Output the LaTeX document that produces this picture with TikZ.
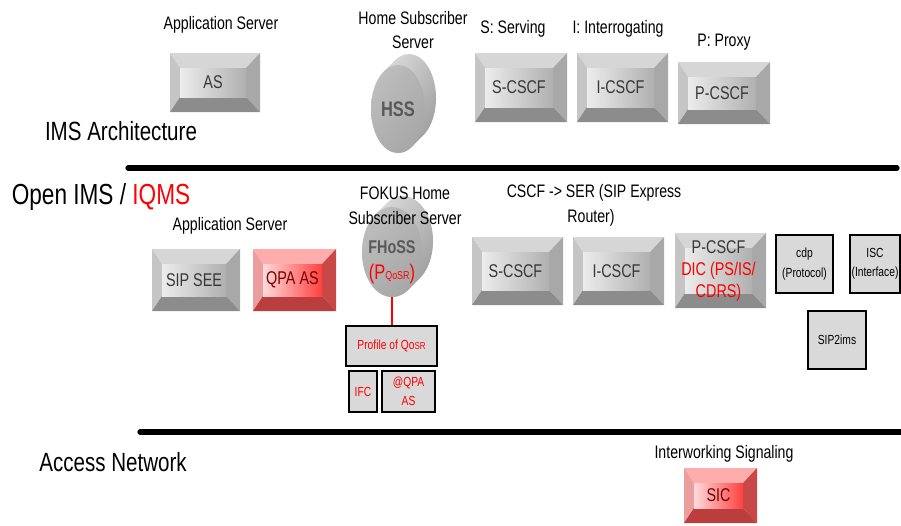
\documentclass[tikz,border=0pt]{standalone}
\usepackage{fontspec}
\setmainfont[FakeStretch=0.78]{Liberation Sans}
\usepackage{tikz}
\usetikzlibrary{shapes.geometric, shadings, positioning}

\definecolor{QRed}{RGB}{255, 0, 0}
\definecolor{BoxGray}{RGB}{217, 217, 217}
\definecolor{GrayTop}{RGB}{214, 214, 214}
\definecolor{GraySide}{RGB}{168, 168, 168}
\definecolor{GrayBase}{RGB}{140, 140, 140}
\definecolor{GrayFaceL}{RGB}{236, 236, 236}
\definecolor{GrayFaceR}{RGB}{176, 176, 176}
\definecolor{GrayText}{RGB}{55, 55, 55}
\definecolor{PinkTop}{RGB}{255, 172, 172}
\definecolor{PinkSide}{RGB}{200, 72, 72}
\definecolor{PinkBase}{RGB}{186, 62, 62}
\definecolor{PinkFaceL}{RGB}{255, 218, 218}
\definecolor{PinkFaceR}{RGB}{255, 64, 64}
\definecolor{PinkText}{RGB}{120, 0, 0}

% raised button: name, upper left x y, lower right x y, colour set, text
\newcommand{\bevelbutton}[7]{%
    \fill[#6Top] (#2,#3) -- (#4,#3) -- (#4-14,#3+15) -- (#2+10,#3+15) -- cycle;
    \fill[#6Top!92!black] (#2,#3) -- (#2+10,#3+15) -- (#2+10,#5-15) -- (#2,#5) -- cycle;
    \fill[#6Side] (#4,#3) -- (#4,#5) -- (#4-14,#5-15) -- (#4-14,#3+15) -- cycle;
    \fill[#6Base] (#2,#5) -- (#2+10,#5-15) -- (#4-14,#5-15) -- (#4,#5) -- cycle;
    \shade[left color=#6FaceL, right color=#6FaceR] (#2+10,#3+15) rectangle (#4-14,#5-15);
    \node[btntext, text=#6Text] (#1) at ({(#2+#4)/2-2},{(#3+#5)/2}) {#7};
}

\begin{document}
\begin{tikzpicture}[x=0.02cm, y=-0.02cm,
    title/.style={font=\fontsize{15}{17}\selectfont, inner sep=0},
    label/.style={font=\fontsize{10.3}{14.2}\selectfont, align=center, inner sep=0},
    btntext/.style={font=\fontsize{10.5}{12.5}\selectfont, align=center, inner sep=0},
    greybox/.style={draw=black, line width=0.7pt, fill=BoxGray, inner sep=0, align=center,
        font=\fontsize{7.5}{11}\selectfont},
    discside/.style={upper left=gray!15, upper right=gray!50, lower left=gray!50, lower right=gray!90},
    disc/.style={ellipse, inner sep=0, upper left=gray!48, upper right=gray!60,
        lower left=gray!62, lower right=gray!72},
    disctext/.style={font=\bfseries\fontsize{12}{13}\selectfont, text=black!65}]
    \useasboundingbox (0,0) rectangle (901,525);

    % IMS architecture
    \node[label] (aslbl) at (221,25) {Application Server};
    \bevelbutton{as}{170}{53}{260}{112}{Gray}{AS}

    \shade[discside] (394.9,60.5) arc[start angle=238.47, end angle=418.47, x radius=27, y radius=44]
        -- (412.1,146.5) arc[start angle=58.47, end angle=238.47, x radius=27, y radius=44] -- cycle;
    \node[disc, minimum width=1.08cm, minimum height=1.76cm, disctext] (hss) at (398,109) {HSS};
    \node[label] (hsslbl) at (413,30) {Home Subscriber\\Server};

    \node[label] (slbl) at (513,29) {S: Serving};
    \bevelbutton{scscf}{475}{53}{567}{122}{Gray}{S-CSCF}
    \node[label] (ilbl) at (618,29) {I: Interrogating};
    \bevelbutton{icscf}{577}{53}{668}{122}{Gray}{I-CSCF}
    \node[label] (plbl) at (724,42) {P: Proxy};
    \bevelbutton{pcscf}{678}{62}{770}{124}{Gray}{P-CSCF}

    \node[title] (ims) at (121,131) {IMS Architecture};
    \draw[line width=3pt, line cap=round] (128,168) -- (897,168);

    % Open IMS / IQMS
    \node[title, font=\fontsize{16.5}{18}\selectfont] (open) at (101,197) {Open IMS / \textcolor{QRed}{IQMS}};
    \node[label] (aslbl2) at (230,226) {Application Server};
    \bevelbutton{sipsee}{152}{249}{240}{311}{Gray}{SIP SEE}
    \bevelbutton{qpaas}{253}{249}{336}{311}{Pink}{QPA AS}

    \shade[discside] (386.4,203.6) arc[start angle=236.31, end angle=416.31, x radius=30, y radius=45]
        -- (408.6,289.4) arc[start angle=56.31, end angle=236.31, x radius=30, y radius=45] -- cycle;
    \node[disc, minimum width=1.2cm, minimum height=1.8cm] (fhoss) at (392,252) {};
    \node[label] (fhosslbl) at (405,206) {FOKUS Home\\Subscriber Server};
    \node[disctext, align=center, font=\bfseries\fontsize{10.5}{15}\selectfont] (fhosstxt) at (392,262)
        {FHoSS\\\textcolor{QRed}{\mdseries\fontsize{12}{15}\selectfont(P{\fontsize{6.5}{7}\selectfont QoSR})}};

    \node[greybox, minimum width=1.82cm, minimum height=0.8cm, text=QRed] (profile) at (391.5,346)
        {Profile of Qo{\fontsize{5.8}{7}\selectfont SR}};
    \node[greybox, minimum width=0.56cm, minimum height=0.82cm, text=QRed] (ifc) at (363,391.5) {IFC};
    \node[greybox, minimum width=1.06cm, minimum height=0.82cm, text=QRed] (qpaat) at (408.5,391.5) {@QPA\\AS};
    \draw[QRed, line width=0.8pt] (fhoss.south) -- (fhoss.south |- profile.north);

    \node[label] (cscflbl) at (594,193) {CSCF -> SER (SIP Express};
    \node[label] (routerlbl) at (591,218) {Router)};
    \bevelbutton{scscf2}{472}{237}{563}{305}{Gray}{S-CSCF}
    \bevelbutton{icscf2}{573}{237}{664}{305}{Gray}{I-CSCF}
    \bevelbutton{pcscf2}{675}{233}{766}{308}{Gray}
        {P-CSCF\\\textcolor{QRed}{DIC (PS/IS/}\\\textcolor{QRed}{CDRS)}}

    \node[greybox, minimum width=1.14cm, minimum height=1.16cm, text=black] (cdp) at (804.5,264) {cdp\\(Protocol)};
    \node[greybox, minimum width=1.0cm, minimum height=1.16cm, text=black] (isc) at (875,264) {ISC\\(Interface)};
    \node[greybox, minimum width=1.16cm, minimum height=1.16cm, text=black] (sip2ims) at (837,340) {SIP2ims};

    \draw[line width=3pt, line cap=round] (140,432) -- (910,432);

    % Access network
    \node[title] (access) at (113,462) {Access Network};
    \node[label] (iwlbl) at (724,454) {Interworking Signaling};
    \bevelbutton{sic}{684}{468}{757}{523}{Pink}{SIC}
\end{tikzpicture}
\end{document}
